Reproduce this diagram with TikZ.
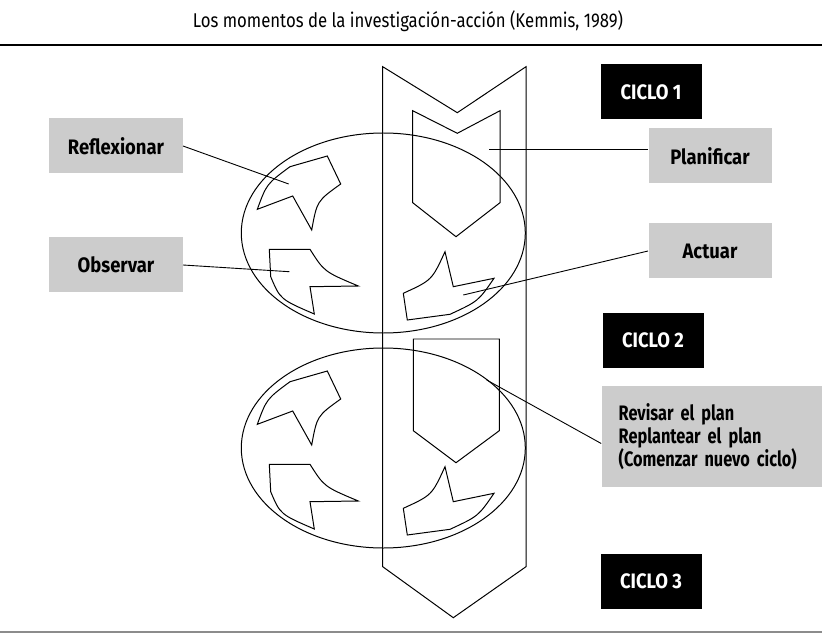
\documentclass[tikz,border=0pt]{standalone}
\usepackage{fontspec}
\setmainfont{Fira Sans}
\newfontfamily\titlefont[FakeStretch=0.84]{Fira Sans}
\newfontfamily\labelfont[FakeStretch=0.88]{Fira Sans}
\newfontfamily\revfont[FakeStretch=0.78,WordSpace=0.6]{Fira Sans}
\usetikzlibrary{calc,positioning}

\begin{document}
\begin{tikzpicture}[x=1bp,y=-1bp,line width=1pt,line join=miter,
        gbox/.style={fill=black!20,inner sep=0pt,minimum height=55bp,
          font=\labelfont\bfseries\fontsize{21}{23}\selectfont},
        cbox/.style={fill=black,text=white,inner sep=0pt,minimum width=101bp,
          minimum height=55bp,font=\labelfont\bfseries\fontsize{21}{23}\selectfont},
        every edge/.style={draw,line width=0.9pt}]

  \useasboundingbox (0,0) rectangle (822,634);

  % title and rules
  \node[anchor=base,font=\titlefont\fontsize{20}{22}\selectfont] (title) at (408,28)
    {Los momentos de la investigación-acción (Kemmis, 1989)};
  \draw[line width=2bp] (0,45) -- (822,45);
  \draw[line width=2bp,black!45] (0,632) -- (822,632);

  % the big arrow and the two plans
  \draw (382.7,66.7) -- (457.3,112.7) -- (526,66.7) -- (526,566.7)
        -- (453.3,617.7) -- (382.7,566.7) -- cycle;
  \draw (412.7,110.7) -- (457.3,133.3) -- (500,110.7) -- (500,202.7)
        -- (456,236.7) -- (412.7,202.7) -- cycle;
  \draw (413.3,339) -- (499.3,339) -- (499.3,430.7) -- (456,462.7)
        -- (413.3,430.7) -- cycle;

  % the two cycles
  \foreach \dy in {0,215}{
    \begin{scope}[shift={(0,\dy)}]
      \draw (383.3,233) ellipse [x radius=142, y radius=100];
      \draw (257.3,209.3) .. controls (266.6,184) .. (290,166.7) -- (327.3,156)
            -- (340.7,184) .. controls (317,201) .. (311.7,230) -- (292.7,196) -- cycle;
      \draw (269.3,249.3) -- (310,249.3) .. controls (324.2,271.7) .. (358.3,286)
            -- (310,286.7) -- (314.3,314) .. controls (280.2,299.3) .. (270.7,276.7) -- cycle;
      \draw (445,251.7) .. controls (431.9,280.2) .. (403.3,293.3) -- (407.3,320)
            -- (450,314.3) .. controls (478.3,301.2) .. (494,278.3) -- (453.3,286.7) -- cycle;
    \end{scope}
  }

  \coordinate (pRef) at (288.7,184);
  \coordinate (pObs) at (289.3,271.7);
  \coordinate (pPlan) at (489.3,149.3);
  \coordinate (pAct) at (463.3,295);
  \coordinate (pRev) at (486.7,380);

  % labels
  \node[gbox,minimum width=133bp] (refl) at (116,146) {Reflexionar};
  \node[gbox,minimum width=133bp,below=63bp of refl] (obs) {Observar};
  \node[cbox] (c1) at (651,92) {CICLO 1};
  \node[gbox,minimum width=123bp] (plan) at (710,156) {Planificar};
  \node[gbox,minimum width=123bp,below=39bp of plan] (act) {Actuar};
  \node[cbox] (c2) at (653,340) {CICLO 2};
  \node[gbox,minimum height=101bp,inner xsep=17bp,text width=200bp,align=left,
        font=\revfont\bfseries\fontsize{21}{23}\selectfont]
    (rev) at (718.7,436.5) {Revisar el plan\\Replantear el plan\\(Comenzar nuevo ciclo)};
  \node[cbox] (c3) at (651,581) {CICLO 3};

  \path (refl.east) edge (pRef)
        (obs.east)  edge (pObs)
        (pPlan)     edge (pPlan -| plan.west)
        (pAct)      edge (act.west)
        (pRev)      edge ($(rev.west)+(0,7)$);

\end{tikzpicture}
\end{document}
